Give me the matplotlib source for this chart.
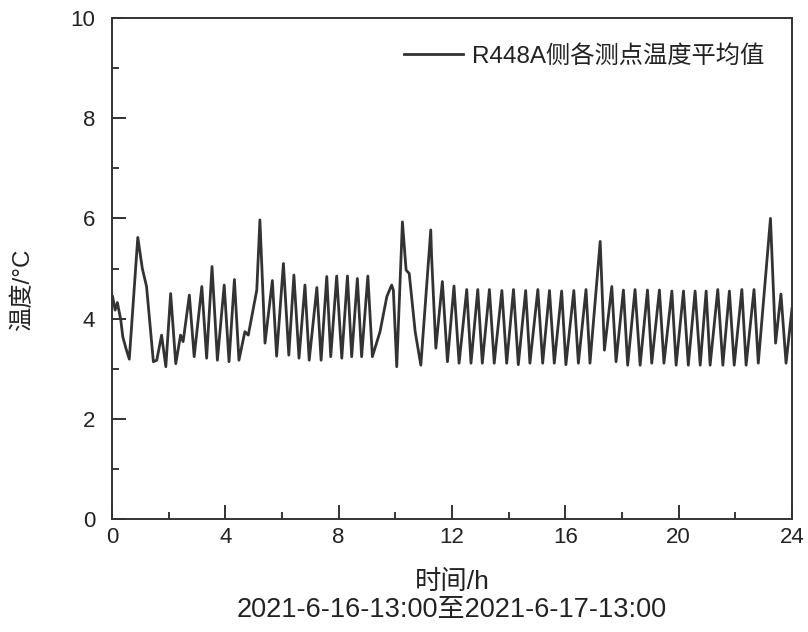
import matplotlib
matplotlib.use("Agg")
import matplotlib.pyplot as plt
from matplotlib.ticker import MultipleLocator

plt.rcParams['font.family'] = ['Liberation Sans', 'Noto Sans CJK SC']

hours = [0.02, 0.11, 0.19, 0.31, 0.38, 0.49, 0.61, 0.91, 1.07, 1.22, 1.46, 1.58, 1.75, 1.90,
         2.07, 2.25, 2.42, 2.51, 2.73, 2.90, 3.17, 3.34, 3.53, 3.72, 3.96, 4.13, 4.32, 4.48,
         4.69, 4.81, 5.11, 5.22, 5.40, 5.66, 5.81, 6.05, 6.24, 6.42, 6.60, 6.81, 6.96, 7.23,
         7.38, 7.58, 7.72, 7.93, 8.11, 8.31, 8.46, 8.66, 8.81, 9.03, 9.19, 9.46, 9.70, 9.87,
         9.93, 10.05, 10.25, 10.38, 10.49, 10.70, 10.90, 11.25, 11.28, 11.43, 11.66, 11.84,
         12.07, 12.25, 12.52, 12.67, 12.91, 13.07, 13.32, 13.49, 13.76, 13.93, 14.17, 14.34,
         14.60, 14.75, 15.03, 15.20, 15.44, 15.61, 15.87, 16.02, 16.30, 16.46, 16.73, 16.87,
         17.23, 17.38, 17.64, 17.79, 18.05, 18.20, 18.46, 18.64, 18.90, 19.05, 19.32, 19.48,
         19.76, 19.91, 20.17, 20.34, 20.58, 20.76, 20.97, 21.11, 21.38, 21.56, 21.79, 21.96,
         22.23, 22.38, 22.66, 22.81, 23.24, 23.42, 23.61, 23.79, 24.0]
temps = [4.44, 4.17, 4.32, 3.97, 3.64, 3.41, 3.19, 5.62, 5.00, 4.64, 3.14, 3.17, 3.67, 3.04,
         4.50, 3.10, 3.67, 3.54, 4.47, 3.24, 4.64, 3.21, 5.04, 3.17, 4.67, 3.14, 4.78, 3.17,
         3.74, 3.67, 4.57, 5.97, 3.51, 4.76, 3.25, 5.10, 3.27, 4.87, 3.21, 4.67, 3.17, 4.62,
         3.17, 4.84, 3.24, 4.85, 3.21, 4.85, 3.24, 4.80, 3.24, 4.85, 3.24, 3.74, 4.44, 4.67,
         4.57, 3.04, 5.93, 4.97, 4.90, 3.74, 3.07, 5.77, 5.24, 3.41, 4.74, 3.14,
         4.65, 3.11, 4.58, 3.11, 4.58, 3.11, 4.58, 3.11, 4.56, 3.11, 4.58, 3.08,
         4.56, 3.11, 4.58, 3.11, 4.56, 3.11, 4.55, 3.08, 4.56, 3.11, 4.58, 3.11,
         5.54, 3.37, 4.64, 3.14, 4.57, 3.07, 4.58, 3.07, 4.57, 3.11, 4.57, 3.11,
         4.55, 3.07, 4.55, 3.07, 4.55, 3.07, 4.55, 3.07, 4.58, 3.07, 4.55, 3.07,
         4.58, 3.07, 4.58, 3.11, 6.00, 3.51, 4.49, 3.11, 4.20]

series_label = 'R448A侧各测点温度平均值'
x_label = '时间/h'
x_sub = '2021-6-16-13:00至2021-6-17-13:00'
y_label = '温度/°C'
x_ticks = [0, 4, 8, 12, 16, 20, 24]
y_ticks = [0, 2, 4, 6, 8, 10]

fig = plt.figure(figsize=(8.08, 6.32), dpi=100)
ax = fig.add_axes([112/808, 113/632, 680/808, 501/632])

ax.plot(hours, temps, color='#333333', lw=2.0, label=series_label)

ax.set_xlim(0, 24)
ax.set_ylim(0, 10)
ax.set_xticks(x_ticks)
ax.set_yticks(y_ticks)
ax.xaxis.set_minor_locator(MultipleLocator(2))
ax.yaxis.set_minor_locator(MultipleLocator(1))
ax.tick_params(which='major', direction='in', length=10, width=1.3, labelsize=16, colors='#222222')
ax.tick_params(which='minor', direction='in', length=5, width=1.1)
ax.tick_params(axis='x', which='major', pad=6)
ax.tick_params(axis='y', which='major', pad=12)
for s in ax.spines.values():
    s.set_linewidth(1.4)
    s.set_color('#333333')

leg = ax.legend(loc='upper right', frameon=False, fontsize=17.5, handlelength=2.4,
                handletextpad=0.4, bbox_to_anchor=(0.992, 0.99))
for t in leg.get_texts():
    t.set_color('#222222')

fig.text(452/808, 1 - 582/632, x_label, ha='center', va='center', fontsize=19, color='#222222')
fig.text(452/808, 1 - 610/632, x_sub, ha='center', va='center', fontsize=19.5, color='#222222')
fig.text(23/808, 1 - 290/632, y_label, ha='center', va='center', rotation=90, fontsize=17.5, color='#222222')

fig.savefig('out.png', dpi=100)
